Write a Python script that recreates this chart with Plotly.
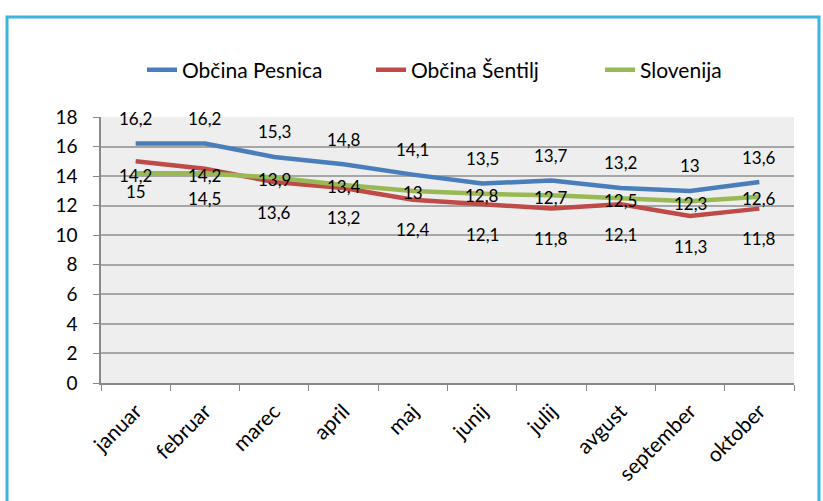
import plotly.graph_objects as go

months = ["januar", "februar", "marec", "april", "maj", "junij", "julij", "avgust", "september", "oktober"]
pesnica = [16.2, 16.2, 15.3, 14.8, 14.1, 13.5, 13.7, 13.2, 13.0, 13.6]
sentilj = [15.0, 14.5, 13.6, 13.2, 12.4, 12.1, 11.8, 12.1, 11.3, 11.8]
slovenija = [14.2, 14.2, 13.9, 13.4, 13.0, 12.8, 12.7, 12.5, 12.3, 12.6]
yticks = [0, 2, 4, 6, 8, 10, 12, 14, 16, 18]

series = [
    ("Občina Pesnica", pesnica, "#4A7EBB", 25),
    ("Občina Šentilj", sentilj, "#BE4B48", -30),
    ("Slovenija", slovenija, "#98B954", -2),
]

FONT = "Lato"

def fmt(v):
    s = ("%.1f" % v).rstrip("0").rstrip(".")
    return s.replace(".", ",")

fig = go.Figure()
annotations = []
for name, vals, color, shift in series:
    fig.add_trace(go.Scatter(
        x=months, y=vals, name=name, mode="lines",
        line=dict(color=color, width=4.5),
    ))
    for m, v in zip(months, vals):
        annotations.append(dict(
            x=m, y=v, xref="x", yref="y", text=fmt(v), showarrow=False,
            yshift=shift, font=dict(family=FONT, size=17, color="black"),
        ))

L, R, T, B = 101, 29, 117, 118
W, H = 823, 501
pw, ph = W - L - R, H - T - B

def px2x(px):
    return (px - L) / pw

def py2y(py):
    return (H - B - py) / ph

fig.add_shape(type="rect", xref="paper", yref="paper",
              x0=px2x(7), x1=px2x(819), y0=py2y(520), y1=py2y(17),
              line=dict(color="#3DB3DE", width=3), fillcolor="rgba(0,0,0,0)", layer="below")

fig.update_layout(
    width=W, height=H,
    margin=dict(l=L, r=R, t=T, b=B, autoexpand=False),
    paper_bgcolor="white",
    plot_bgcolor="#EEEEEE",
    font=dict(family=FONT, color="black"),
    annotations=annotations,
    legend=dict(orientation="h", x=px2x(142), xanchor="left", y=py2y(70), yanchor="middle",
                font=dict(family=FONT, size=21), bgcolor="rgba(0,0,0,0)",
                tracegroupgap=0, entrywidth=184),
    showlegend=True,
)
fig.update_xaxes(
    type="category", range=[-0.5, 9.5], tickangle=-45,
    tickson="boundaries", ticks="outside", ticklen=6, tickcolor="#888888",
    showline=True, linecolor="#888888", linewidth=1.5, showgrid=False,
    tickfont=dict(family=FONT, size=21), fixedrange=True, ticklabelstandoff=6,
)
fig.update_yaxes(
    range=[0, 18], tickvals=yticks, ticktext=[str(t) for t in yticks],
    ticks="outside", ticklen=6, tickcolor="#888888",
    showline=True, linecolor="#888888", linewidth=1.5,
    showgrid=True, gridcolor="#A6A6A6", gridwidth=1.5, zeroline=False,
    tickfont=dict(family=FONT, size=19), fixedrange=True, ticklabelstandoff=12,
)

fig.write_html("out.html", config={"displayModeBar": False},
               post_script="document.body.style.margin='0px';document.body.style.overflow='hidden';")
